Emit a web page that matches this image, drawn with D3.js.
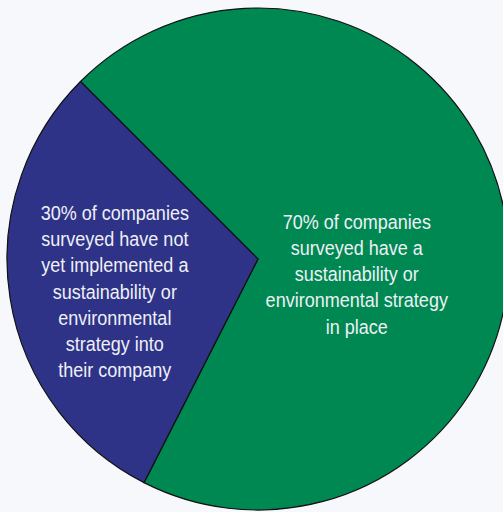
<!DOCTYPE html>
<html>
<head>
<meta charset="utf-8">
<script src="https://cdn.jsdelivr.net/npm/d3@7"></script>
<style>
  html, body { margin: 0; padding: 0; background: #f7f8fc; }
  svg { display: block; }
  .slice-label { font-family: "Liberation Sans Narrow", "Liberation Sans", Arial, sans-serif; font-size: 19.5px; fill: #eef0f6; }
</style>
</head>
<body>
<div class="chart-pie"><svg></svg></div>
<script>
'use strict';

// datos
var categories = ['implemented', 'not implemented'];
var values = [70, 30];
var colors = ['#008852', '#2e3388'];
var labels = [
    ['70% of companies', 'surveyed have a', 'sustainability or', 'environmental strategy', 'in place'],
    ['30% of companies', 'surveyed have not', 'yet implemented a', 'sustainability or', 'environmental', 'strategy into', 'their company']
];

function pieChart() {
    var width = 503;
    var height = 512;
    var cx = 258, cy = 259, radius = 251;
    var lineHeight = 26.3;
    var squeeze = 0.925; // letra condensada

    var svg = d3.select('.chart-pie svg').attr('width', width).attr('height', height);
    var g = svg.append('g').attr('transform', 'translate(' + cx + ',' + cy + ')');

    var pie = d3.pie().sort(null).value(function (d) { return d.value; })
        .startAngle(-Math.PI / 4).endAngle(-Math.PI / 4 + 2 * Math.PI);

    var arc = d3.arc().innerRadius(0).outerRadius(radius);

    var dataz = categories.map(function (c, i) {
        return { name: c, value: values[i], color: colors[i], lines: labels[i] };
    });

    var arcs = pie(dataz);

    g.selectAll('.slice').data(arcs).enter().append('path')
        .attr('class', 'slice')
        .attr('d', arc)
        .attr('fill', function (d) { return d.data.color; })
        .attr('stroke', '#111')
        .attr('stroke-width', 1.2);

    // posicion de las etiquetas: centroide con radio propio y un pequeño ajuste
    var labelRadius = [100, 145];
    var labelShift = [31, 10];

    arcs.forEach(function (d, i) {
        var a = (d.startAngle + d.endAngle) / 2;
        var x = labelRadius[i] * Math.sin(a);
        var y = -labelRadius[i] * Math.cos(a) + labelShift[i];
        var n = d.data.lines.length;
        var t = g.append('text').attr('class', 'slice-label')
            .attr('text-anchor', 'middle')
            .attr('transform', 'translate(' + x + ',' + y + ') scale(' + squeeze + ',1)');
        d.data.lines.forEach(function (line, j) {
            t.append('tspan')
                .attr('x', 0)
                .attr('y', (j - (n - 1) / 2) * lineHeight)
                .attr('dy', '0.35em')
                .text(line);
        });
    });
}

pieChart();
</script>
</body>
</html>
